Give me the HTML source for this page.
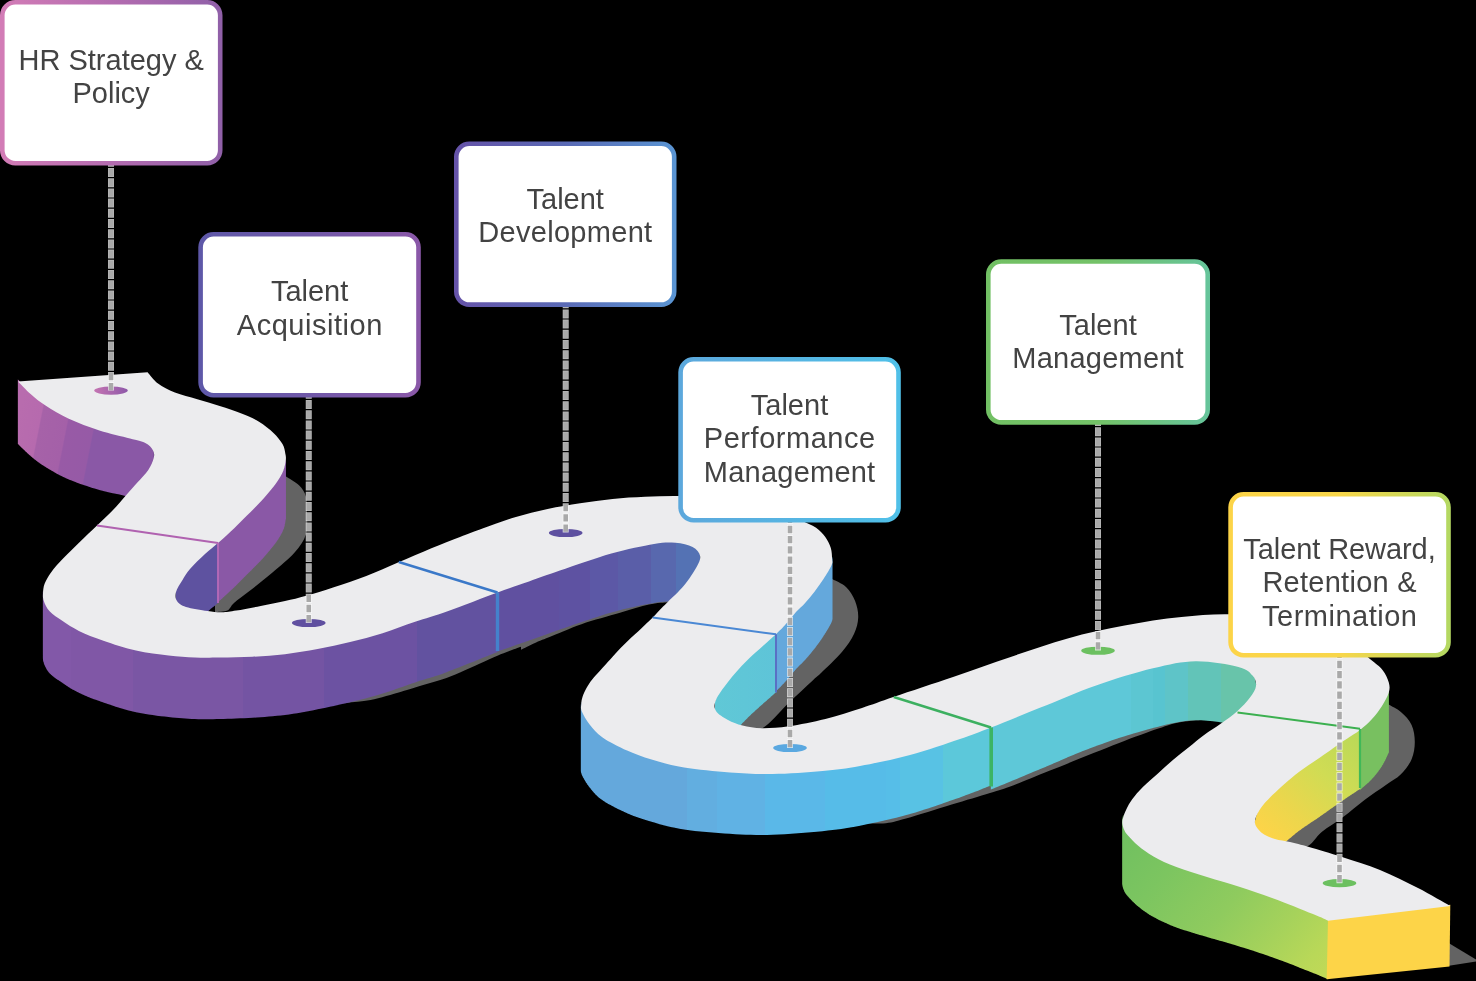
<!DOCTYPE html><html><head><meta charset="utf-8"><style>html,body{margin:0;padding:0;background:#000;overflow:hidden;}svg{display:block}</style></head><body>
<svg style="will-change:transform" width="1476" height="981" viewBox="0 0 1476 981">
<defs>
<linearGradient id="gW1" gradientUnits="userSpaceOnUse" x1="18" y1="420" x2="150" y2="446">
 <stop offset="0" stop-color="#b86cae"/><stop offset="0.16" stop-color="#b66aae"/><stop offset="0.17" stop-color="#a662a8"/><stop offset="0.36" stop-color="#a460a8"/><stop offset="0.37" stop-color="#985aa6"/><stop offset="0.56" stop-color="#965aa6"/><stop offset="0.57" stop-color="#8a58a6"/><stop offset="1" stop-color="#8a58a6"/>
</linearGradient>
<linearGradient id="gW2" gradientUnits="userSpaceOnUse" x1="218" y1="0" x2="286" y2="0">
 <stop offset="0" stop-color="#8a58a6"/><stop offset="1" stop-color="#8a58a6"/>
</linearGradient>
<linearGradient id="gW4" gradientUnits="userSpaceOnUse" x1="43" y1="0" x2="500" y2="0">
 <stop offset="0.0000" stop-color="#8258a8"/><stop offset="0.0613" stop-color="#8258a8"/><stop offset="0.0613" stop-color="#8057a6"/><stop offset="0.1980" stop-color="#8057a6"/><stop offset="0.1980" stop-color="#7a56a4"/><stop offset="0.4368" stop-color="#7a56a4"/><stop offset="0.4368" stop-color="#7454a3"/><stop offset="0.6140" stop-color="#7454a3"/><stop offset="0.6140" stop-color="#6c52a2"/><stop offset="0.8184" stop-color="#6c52a2"/><stop offset="0.8184" stop-color="#6252a0"/><stop offset="1.0000" stop-color="#6252a0"/>
</linearGradient>
<linearGradient id="gW5" gradientUnits="userSpaceOnUse" x1="497" y1="0" x2="705" y2="0">
 <stop offset="0.0000" stop-color="#6050a0"/><stop offset="0.2981" stop-color="#6050a0"/><stop offset="0.2981" stop-color="#5e52a2"/><stop offset="0.4471" stop-color="#5e52a2"/><stop offset="0.4471" stop-color="#5c58a6"/><stop offset="0.5817" stop-color="#5c58a6"/><stop offset="0.5817" stop-color="#5a5ea8"/><stop offset="0.7404" stop-color="#5a5ea8"/><stop offset="0.7404" stop-color="#5868ae"/><stop offset="0.8606" stop-color="#5868ae"/><stop offset="0.8606" stop-color="#5472b4"/><stop offset="1.0000" stop-color="#5472b4"/>
</linearGradient>
<linearGradient id="gW7" gradientUnits="userSpaceOnUse" x1="776" y1="0" x2="713" y2="0">
 <stop offset="0" stop-color="#5ec4d8"/><stop offset="1" stop-color="#60c8d6"/>
</linearGradient>
<linearGradient id="gW8" gradientUnits="userSpaceOnUse" x1="581" y1="0" x2="995" y2="0">
 <stop offset="0.0000" stop-color="#64a8dc"/><stop offset="0.2572" stop-color="#64a8dc"/><stop offset="0.2572" stop-color="#62aee0"/><stop offset="0.3297" stop-color="#62aee0"/><stop offset="0.3297" stop-color="#60b2e4"/><stop offset="0.4444" stop-color="#60b2e4"/><stop offset="0.4444" stop-color="#5ab8e8"/><stop offset="0.5894" stop-color="#5ab8e8"/><stop offset="0.5894" stop-color="#56bce8"/><stop offset="0.7367" stop-color="#56bce8"/><stop offset="0.7367" stop-color="#56bee8"/><stop offset="0.7705" stop-color="#56bee8"/><stop offset="0.7705" stop-color="#58c2e4"/><stop offset="0.8744" stop-color="#58c2e4"/><stop offset="0.8744" stop-color="#5cc8da"/><stop offset="1.0000" stop-color="#5cc8da"/>
</linearGradient>
<linearGradient id="gW9" gradientUnits="userSpaceOnUse" x1="991" y1="0" x2="1260" y2="0">
 <stop offset="0.0000" stop-color="#5ec8d8"/><stop offset="0.5204" stop-color="#5ec8d8"/><stop offset="0.5204" stop-color="#5cc6d2"/><stop offset="0.6022" stop-color="#5cc6d2"/><stop offset="0.6022" stop-color="#58c4d0"/><stop offset="0.6468" stop-color="#58c4d0"/><stop offset="0.6468" stop-color="#5ec4c8"/><stop offset="0.7323" stop-color="#5ec4c8"/><stop offset="0.7323" stop-color="#62c4b8"/><stop offset="0.8550" stop-color="#62c4b8"/><stop offset="0.8550" stop-color="#68c4aa"/><stop offset="1.0000" stop-color="#68c4aa"/>
</linearGradient>
<linearGradient id="gW11" gradientUnits="userSpaceOnUse" x1="1360" y1="730" x2="1265" y2="835">
 <stop offset="0" stop-color="#b8d858"/><stop offset="0.4" stop-color="#d0dc54"/><stop offset="0.75" stop-color="#ecd64c"/><stop offset="1" stop-color="#fdd448"/>
</linearGradient>
<linearGradient id="gW12" gradientUnits="userSpaceOnUse" x1="1120" y1="820" x2="1330" y2="1000">
 <stop offset="0" stop-color="#6ebf60"/><stop offset="0.25" stop-color="#7cc560"/><stop offset="0.5" stop-color="#8fcb5e"/><stop offset="0.7" stop-color="#a6d25b"/><stop offset="0.85" stop-color="#b9d858"/><stop offset="1" stop-color="#c6da56"/>
</linearGradient>
<linearGradient id="gp1" x1="0" y1="0" x2="1" y2="0"><stop offset="0" stop-color="#c474b2"/><stop offset="1" stop-color="#8e58a8"/></linearGradient>
<linearGradient id="gb1" x1="0" y1="0" x2="1" y2="0"><stop offset="0" stop-color="#d27cb6"/><stop offset="0.5" stop-color="#b46cb0"/><stop offset="1" stop-color="#9060a8"/></linearGradient>
<linearGradient id="gb2" x1="0" y1="0" x2="1" y2="0"><stop offset="0" stop-color="#5e58a8"/><stop offset="0.5" stop-color="#7058a8"/><stop offset="1" stop-color="#8a58a8"/></linearGradient>
<linearGradient id="gb3" x1="0" y1="0" x2="1" y2="0"><stop offset="0" stop-color="#6553a8"/><stop offset="0.5" stop-color="#5a6ab5"/><stop offset="1" stop-color="#5a94d2"/></linearGradient>
<linearGradient id="gb4" x1="0" y1="0" x2="1" y2="0"><stop offset="0" stop-color="#5ca8dc"/><stop offset="1" stop-color="#50c0e8"/></linearGradient>
<linearGradient id="gb5" x1="0" y1="0" x2="1" y2="0"><stop offset="0" stop-color="#72c064"/><stop offset="0.5" stop-color="#74c268"/><stop offset="1" stop-color="#66c49a"/></linearGradient>
<linearGradient id="gb6" x1="0" y1="0" x2="1" y2="0"><stop offset="0" stop-color="#fcd448"/><stop offset="0.5" stop-color="#f8d64a"/><stop offset="1" stop-color="#b4d862"/></linearGradient>
</defs>
<rect width="1476" height="981" fill="#000"/>
<path d="M283.0,474.0 C283.4,474.4 282.9,474.4 285.6,476.3 C288.3,478.2 295.6,481.9 299.0,485.3 C302.4,488.7 304.6,492.0 305.9,496.5 C307.2,501.0 307.0,505.9 307.0,512.2 C307.0,518.6 308.0,527.9 305.9,534.6 C303.8,541.3 300.2,546.2 294.6,552.6 C289.0,559.0 279.7,566.4 272.2,572.8 C264.7,579.2 256.2,585.8 249.8,590.8 C243.4,595.8 237.8,599.7 234.0,603.0 C230.2,606.3 230.5,609.0 227.3,610.5 C224.1,612.0 217.1,611.8 215.0,612.0 L215,540 L283,470 Z" fill="#636363"/>
<path d="M315.0,708.0 C320.0,707.2 335.7,704.3 345.0,703.0 C354.3,701.7 361.2,701.9 370.6,700.0 C380.0,698.1 392.7,694.1 401.2,691.7 C409.7,689.3 414.7,687.6 421.5,685.6 C428.3,683.6 435.5,681.7 441.9,679.5 C448.3,677.3 453.6,675.1 460.0,672.4 C466.4,669.7 473.7,666.3 480.0,663.5 C486.3,660.7 491.2,658.3 498.0,655.5 C504.8,652.7 517.2,648.2 521.0,646.8 L521,630 L315,690 Z" fill="#636363"/>
<path d="M521.0,649.8 C523.3,648.7 530.4,645.1 535.0,643.0 C539.6,640.9 541.1,640.4 548.9,637.3 C556.6,634.2 569.6,628.3 581.5,624.2 C593.4,620.1 608.8,616.1 620.0,612.8 C631.2,609.5 641.0,606.2 649.0,604.5 C657.0,602.8 664.8,602.7 668.0,602.3 L668,590 L521,635 Z" fill="#636363"/>
<path d="M829.0,577.0 C829.5,577.3 828.9,577.1 831.7,578.7 C834.5,580.4 842.1,583.2 846.0,586.9 C849.9,590.6 853.1,596.0 855.1,601.1 C857.1,606.2 858.4,612.0 858.2,617.4 C858.0,622.8 856.8,627.9 854.1,633.7 C851.4,639.5 847.3,645.6 841.9,652.1 C836.5,658.6 826.3,667.9 821.5,672.5 C816.7,677.1 818.9,674.8 813.2,680.0 C807.6,685.2 796.1,695.9 787.6,704.0 C779.1,712.1 769.9,724.4 762.0,728.5 C754.1,732.6 743.7,728.5 740.0,728.5 L740,680 L829,570 Z" fill="#636363"/>
<path d="M855.0,822.0 C859.7,822.2 874.5,824.1 883.0,823.5 C891.5,822.9 894.5,821.8 906.0,818.6 C917.5,815.5 937.7,808.9 951.7,804.6 C965.7,800.4 979.8,796.3 990.0,793.1 C1000.2,789.9 1003.0,789.2 1013.0,785.5 C1023.0,781.8 1032.5,777.6 1050.0,770.6 C1067.5,763.6 1099.7,750.5 1117.8,743.5 C1135.9,736.5 1148.2,732.1 1158.4,728.6 C1168.6,725.1 1171.8,723.9 1178.7,722.5 C1185.6,721.1 1196.5,720.4 1200.0,720.0 L1200,700 L855,800 Z" fill="#636363"/>
<path d="M1386.0,703.0 C1386.4,703.3 1386.0,703.1 1388.5,704.6 C1391.0,706.1 1397.1,708.7 1400.9,712.1 C1404.8,715.5 1409.3,720.0 1411.6,725.0 C1413.9,730.0 1414.8,736.4 1414.8,742.1 C1414.8,747.8 1413.9,753.9 1411.6,759.2 C1409.3,764.6 1405.2,769.9 1400.9,774.2 C1396.6,778.5 1392.0,780.6 1385.9,784.9 C1379.8,789.2 1371.6,794.5 1364.5,799.9 C1357.4,805.2 1350.2,811.6 1343.1,817.0 C1336.0,822.4 1327.8,827.1 1321.7,832.0 C1315.6,836.9 1312.8,844.5 1306.7,846.5 C1300.6,848.5 1291.5,845.1 1285.0,844.0 C1278.5,842.9 1270.8,840.7 1268.0,840.0 L1268,800 L1386,690 Z" fill="#636363"/>
<path d="M1449,943.3 L1476,959.5 L1476,961.5 L1449,965.8 Z" fill="#636363"/>
<path d="M17.85,379.40L19.10,380.38L19.10,444.88L17.85,443.90ZM18.80,380.38L20.35,381.68L20.35,446.18L18.80,444.88ZM20.05,381.68L21.83,383.24L21.83,447.67L20.05,446.18ZM21.53,383.24L23.49,384.96L23.49,449.34L21.53,447.67ZM23.19,384.96L25.27,386.78L25.27,451.08L23.19,449.34ZM24.97,386.78L27.11,388.61L27.11,452.85L24.97,451.08ZM26.81,388.61L28.96,390.38L28.96,454.54L26.81,452.85ZM28.66,390.38L30.75,392.00L30.75,456.10L28.66,454.54ZM30.45,392.00L32.48,393.51L32.48,457.54L30.45,456.10ZM32.18,393.51L34.21,394.98L34.21,458.94L32.18,457.54ZM33.91,394.98L35.96,396.43L35.96,460.33L33.91,458.94ZM35.66,396.43L37.76,397.88L37.76,461.70L35.66,460.33ZM37.46,397.88L39.64,399.32L39.64,463.08L37.46,461.70ZM39.34,399.32L41.63,400.78L41.63,464.47L39.34,463.08ZM41.33,400.78L43.76,402.27L43.76,465.87L41.33,464.47ZM43.46,402.27L46.05,403.80L46.05,467.31L43.46,465.87ZM45.75,403.80L48.50,405.38L48.50,468.80L45.75,467.31ZM48.20,405.38L51.06,407.00L51.06,470.32L48.20,468.80ZM50.76,407.00L53.74,408.64L53.74,471.86L50.76,470.32ZM53.44,408.64L56.54,410.31L56.54,473.42L53.44,471.86ZM56.24,410.31L59.46,411.97L59.46,474.97L56.24,473.42ZM59.16,411.97L62.51,413.61L62.51,476.50L59.16,474.97ZM62.21,413.61L65.67,415.23L65.67,478.00L62.21,476.50ZM65.37,415.23L68.95,416.80L68.95,479.44L65.37,478.00ZM68.65,416.80L72.41,418.35L72.41,480.86L68.65,479.44ZM72.11,418.35L76.06,419.90L76.06,482.27L72.11,480.86ZM75.76,419.90L79.86,421.45L79.86,483.67L75.76,482.27ZM79.56,421.45L83.77,422.96L83.77,485.04L79.56,483.67ZM83.47,422.96L87.74,424.44L87.74,486.37L83.47,485.04ZM87.44,424.44L91.72,425.87L91.72,487.64L87.44,486.37ZM91.42,425.87L95.67,427.22L95.67,488.85L91.42,487.64ZM95.37,427.22L99.55,428.50L99.55,489.98L95.37,488.85ZM99.25,428.50L103.48,429.70L103.48,491.03L99.25,489.98ZM103.18,429.70L107.56,430.84L107.56,492.01L103.18,491.03ZM107.26,430.84L111.70,431.92L111.70,492.94L107.26,492.01ZM111.40,431.92L115.81,432.95L115.81,493.81L111.40,492.94ZM115.51,432.95L119.80,433.92L119.80,494.62L115.51,493.81ZM119.50,433.92L123.58,434.83L123.58,495.39L119.50,494.62ZM123.28,434.83L127.06,435.69L127.06,496.19L123.28,495.39ZM126.76,435.69L130.15,436.50L130.15,497.00L126.76,496.19ZM129.85,436.50L132.85,437.21L132.85,497.71L129.85,497.00ZM132.55,437.21L135.23,437.81L135.23,498.31L132.55,497.71ZM134.93,437.81L137.35,438.33L137.35,498.83L134.93,498.31ZM137.05,438.33L139.24,438.80L139.24,499.30L137.05,498.83ZM138.94,438.80L140.95,439.27L140.95,499.77L138.94,499.30ZM140.65,439.27L142.53,439.77L142.53,500.27L140.65,499.77ZM142.22,439.77L144.01,440.33L144.01,500.83L142.22,500.27ZM143.71,440.33L145.45,441.00L145.45,501.50L143.71,500.83ZM145.15,441.00L146.81,441.77L146.81,502.27L145.15,501.50ZM146.51,441.77L148.05,442.60L148.05,503.10L146.51,502.27ZM147.75,442.60L149.16,443.48L149.16,503.98L147.75,503.10ZM148.86,443.48L150.16,444.39L150.16,504.89L148.86,503.98ZM149.86,444.39L151.04,445.34L151.04,505.84L149.86,504.89ZM150.74,445.34L151.81,446.29L151.81,506.79L150.74,505.84ZM151.51,446.29L152.48,447.25L152.48,507.75L151.51,506.79ZM152.18,447.25L153.05,448.20L153.05,508.70L152.18,507.75ZM152.75,448.20L153.48,449.20L153.48,509.70L152.75,508.70ZM153.18,449.20L153.75,450.29L153.75,510.79L153.18,509.70ZM153.45,450.29L153.88,451.42L153.88,511.92L153.45,510.79ZM153.58,451.42L153.93,452.55L153.93,513.05L153.58,511.92ZM153.61,453.62L153.93,452.55L153.93,513.05L153.61,514.12ZM153.57,454.58L153.91,453.62L153.91,514.12L153.57,515.08ZM153.53,455.39L153.87,454.58L153.87,515.08L153.53,515.89ZM153.53,455.39L153.85,456.00L153.85,516.50L153.53,515.89Z" fill="url(#gW1)"/>
<path d="M285.49,458.82L285.95,458.00L285.95,519.00L285.49,519.82ZM285.31,459.90L285.79,458.82L285.79,519.82L285.31,520.90ZM285.09,461.18L285.61,459.90L285.61,520.90L285.09,522.18ZM284.83,462.61L285.39,461.18L285.39,522.18L284.83,523.61ZM284.53,464.13L285.13,462.61L285.13,523.61L284.53,525.13ZM284.17,465.67L284.83,464.13L284.83,525.13L284.17,526.67ZM283.74,467.18L284.47,465.67L284.47,526.67L283.74,528.18ZM283.25,468.60L284.04,467.18L284.04,528.18L283.25,529.60ZM282.68,469.96L283.55,468.60L283.55,529.60L282.68,530.96ZM282.04,471.32L282.98,469.96L282.98,530.96L282.04,532.32ZM281.34,472.70L282.34,471.32L282.34,532.32L281.34,533.70ZM280.59,474.07L281.64,472.70L281.64,533.70L280.59,535.08ZM279.78,475.46L280.89,474.07L280.89,535.08L279.78,536.46ZM278.94,476.84L280.08,475.46L280.08,536.46L278.94,537.84ZM278.06,478.22L279.24,476.84L279.24,537.84L278.06,539.22ZM277.15,479.60L278.36,478.22L278.36,539.22L277.15,540.60ZM276.20,480.98L277.45,479.60L277.45,540.60L276.20,541.98ZM275.20,482.35L276.50,480.98L276.50,541.98L275.20,543.35ZM274.16,483.73L275.50,482.35L275.50,543.35L274.16,544.73ZM273.08,485.10L274.46,483.73L274.46,544.73L273.08,546.10ZM271.97,486.48L273.38,485.10L273.38,546.10L271.97,547.48ZM270.84,487.85L272.27,486.48L272.27,547.48L270.84,548.85ZM269.70,489.23L271.14,487.85L271.14,548.85L269.70,550.23ZM268.55,490.60L270.00,489.23L270.00,550.23L268.55,551.60ZM267.40,491.97L268.85,490.60L268.85,551.60L267.40,552.97ZM266.24,493.32L267.70,491.97L267.70,552.97L266.24,554.32ZM265.07,494.67L266.54,493.32L266.54,554.32L265.07,555.67ZM263.88,496.03L265.37,494.67L265.37,555.67L263.88,557.03ZM262.65,497.39L264.17,496.03L264.17,557.03L262.65,558.39ZM261.40,498.77L262.95,497.39L262.95,558.39L261.40,559.77ZM260.10,500.17L261.70,498.77L261.70,559.77L260.10,561.17ZM258.75,501.60L260.40,500.17L260.40,561.17L258.75,562.60ZM257.34,503.07L259.05,501.60L259.05,562.60L257.34,564.07ZM255.87,504.57L257.64,503.07L257.64,564.07L255.87,565.57ZM254.35,506.09L256.17,504.57L256.17,565.57L254.35,567.09ZM252.80,507.62L254.65,506.09L254.65,567.09L252.80,568.62ZM251.23,509.17L253.10,507.62L253.10,568.62L251.23,570.17ZM249.66,510.72L251.53,509.17L251.53,570.17L249.66,571.72ZM248.09,512.27L249.96,510.72L249.96,571.72L248.09,573.27ZM246.55,513.80L248.39,512.27L248.39,573.27L246.55,574.80ZM245.04,515.32L246.85,513.80L246.85,574.80L245.04,576.32ZM243.56,516.82L245.34,515.32L245.34,576.32L243.56,577.82ZM242.08,518.32L243.86,516.82L243.86,577.82L242.08,579.32ZM240.61,519.82L242.38,518.32L242.38,579.32L240.61,580.82ZM239.11,521.33L240.91,519.82L240.91,580.82L239.11,582.33ZM237.58,522.86L239.41,521.33L239.41,582.33L237.58,583.86ZM235.99,524.41L237.88,522.86L237.88,583.86L235.99,585.41ZM234.35,526.00L236.29,524.41L236.29,585.41L234.35,587.00ZM232.54,527.71L234.65,526.00L234.65,587.00L232.54,588.71ZM230.55,529.56L232.84,527.71L232.84,588.71L230.55,590.56ZM228.45,531.49L230.85,529.56L230.85,590.56L228.45,592.49ZM226.35,533.42L228.75,531.49L228.75,592.49L226.35,594.42ZM224.33,535.26L226.65,533.42L226.65,594.42L224.33,596.26ZM222.48,536.94L224.63,535.26L224.63,596.26L222.48,597.94ZM220.89,538.38L222.78,536.94L222.78,597.94L220.89,599.38ZM219.65,539.50L221.19,538.38L221.19,599.38L219.65,600.50ZM218.80,540.27L219.95,539.50L219.95,600.50L218.80,601.27ZM218.25,540.75L219.10,540.27L219.10,601.27L218.25,601.75ZM217.95,541.01L218.55,540.75L218.55,601.75L217.95,602.01ZM217.83,541.09L218.25,541.01L218.25,602.01L217.83,602.09ZM217.83,541.07L218.13,541.09L218.13,602.09L217.83,602.07ZM217.83,541.07L218.17,541.01L218.17,602.01L217.83,602.07ZM217.87,541.01L218.20,540.97L218.20,601.97L217.87,602.01ZM217.85,541.00L218.20,540.97L218.20,601.97L217.85,602.00Z" fill="url(#gW2)"/>
<path d="M216.86,541.82L218.15,541.00L218.15,603.00L216.86,603.82ZM215.56,542.88L217.16,541.82L217.16,603.82L215.56,604.88ZM214.02,544.14L215.86,542.88L215.86,604.88L214.02,606.14ZM212.29,545.56L214.32,544.14L214.32,606.14L212.29,607.56ZM210.44,547.10L212.59,545.56L212.59,607.56L210.44,609.10ZM208.55,548.71L210.74,547.10L210.74,609.10L208.55,610.71ZM206.66,550.36L208.85,548.71L208.85,610.71L206.66,612.36ZM204.85,552.00L206.96,550.36L206.96,612.36L204.85,614.00ZM203.02,553.71L205.15,552.00L205.15,614.00L203.02,615.71ZM201.06,555.56L203.32,553.71L203.32,615.71L201.06,617.56ZM199.04,557.51L201.36,555.56L201.36,617.56L199.04,619.51ZM197.01,559.50L199.34,557.51L199.34,619.51L197.01,621.50ZM195.01,561.49L197.31,559.50L197.31,621.50L195.01,623.49ZM193.12,563.44L195.31,561.49L195.31,623.49L193.12,625.44ZM191.38,565.29L193.42,563.44L193.42,625.44L191.38,627.29ZM189.85,567.00L191.68,565.29L191.68,627.29L189.85,629.00ZM188.55,568.56L190.15,567.00L190.15,629.00L188.55,630.56ZM187.42,570.01L188.85,568.56L188.85,630.56L187.42,632.01ZM186.44,571.37L187.72,570.01L187.72,632.01L186.44,633.37ZM185.57,572.69L186.74,571.37L186.74,633.37L185.57,634.69ZM184.76,573.98L185.87,572.69L185.87,634.69L184.76,635.98ZM183.98,575.27L185.06,573.98L185.06,635.98L183.98,637.27ZM183.19,576.60L184.28,575.27L184.28,637.27L183.19,638.60ZM182.35,578.00L183.49,576.60L183.49,638.60L182.35,640.00ZM181.44,579.47L182.65,578.00L182.65,640.00L181.44,641.47ZM180.48,581.00L181.74,579.47L181.74,641.47L180.48,643.00ZM179.51,582.56L180.78,581.00L180.78,643.00L179.51,644.56ZM178.57,584.12L179.81,582.56L179.81,644.56L178.57,646.12ZM177.69,585.68L178.87,584.12L178.87,646.12L177.69,647.68ZM176.92,587.19L177.99,585.68L177.99,647.68L176.92,649.19ZM176.30,588.64L177.22,587.19L177.22,649.19L176.30,650.64ZM175.85,590.00L176.60,588.64L176.60,650.64L175.85,652.00ZM175.62,591.33L176.15,590.00L176.15,652.00L175.62,653.33ZM175.60,592.67L175.92,591.33L175.92,653.33L175.60,654.67ZM175.60,592.67L176.02,593.99L176.02,655.99L175.60,654.67ZM175.72,593.99L176.24,595.25L176.24,657.25L175.72,655.99ZM175.94,595.25L176.52,596.42L176.52,658.42L175.94,657.25ZM176.22,596.42L176.79,597.45L176.79,659.45L176.22,658.42ZM176.49,597.45L177.02,598.33L177.02,660.33L176.49,659.45ZM176.72,598.33L177.15,599.00L177.15,661.00L176.72,660.33Z" fill="#5e52a0"/>
<path d="M42.85,591.40L43.18,591.97L43.18,655.97L42.85,655.40ZM42.88,592.70L43.18,591.97L43.18,655.97L42.88,656.70ZM42.87,593.57L43.18,592.70L43.18,656.70L42.87,657.57ZM42.87,593.57L43.19,594.56L43.19,658.56L42.87,657.57ZM42.89,594.56L43.25,595.62L43.25,659.62L42.89,658.56ZM42.95,595.62L43.38,596.73L43.38,660.73L42.95,659.62ZM43.08,596.73L43.61,597.87L43.61,661.87L43.08,660.73ZM43.31,597.87L43.95,599.00L43.95,663.00L43.31,661.87ZM43.65,599.00L44.39,600.16L44.39,664.16L43.65,663.00ZM44.09,600.16L44.88,601.40L44.88,665.39L44.09,664.16ZM44.58,601.40L45.44,602.69L45.44,666.68L44.58,665.39ZM45.14,602.69L46.09,604.01L46.09,668.00L45.14,666.68ZM45.79,604.01L46.83,605.36L46.83,669.34L45.79,668.00ZM46.53,605.36L47.68,606.70L47.68,670.68L46.53,669.34ZM47.38,606.70L48.65,608.02L48.65,672.00L47.38,670.68ZM48.35,608.02L49.75,609.30L49.75,673.28L48.35,672.00ZM49.45,609.30L51.01,610.55L51.01,674.53L49.45,673.28ZM50.71,610.55L52.42,611.79L52.42,675.76L50.71,674.53ZM52.12,611.79L53.95,613.01L53.95,676.98L52.12,675.76ZM53.65,613.01L55.59,614.23L55.59,678.19L53.65,676.98ZM55.29,614.23L57.32,615.45L57.32,679.41L55.29,678.19ZM57.02,615.45L59.10,616.66L59.10,680.61L57.02,679.41ZM58.80,616.66L60.92,617.88L60.92,681.83L58.80,680.61ZM60.62,617.88L62.75,619.10L62.75,683.04L60.62,681.83ZM62.45,619.10L64.57,620.33L64.57,684.26L62.45,683.04ZM64.27,620.33L66.40,621.55L66.40,685.48L64.27,684.26ZM66.10,621.55L68.26,622.77L68.26,686.70L66.10,685.48ZM67.96,622.77L70.18,624.00L70.18,687.92L67.96,686.70ZM69.88,624.00L72.19,625.23L72.19,689.14L69.88,687.92ZM71.89,625.23L74.32,626.45L74.32,690.36L71.89,689.14ZM74.02,626.45L76.60,627.67L76.60,691.58L74.02,690.36ZM76.30,627.67L79.05,628.90L79.05,692.79L76.30,691.58ZM78.75,628.90L81.66,630.12L81.66,694.01L78.75,692.79ZM81.36,630.12L84.41,631.35L84.41,695.23L81.36,694.01ZM84.11,631.35L87.28,632.58L87.28,696.44L84.11,695.23ZM86.98,632.58L90.28,633.80L90.28,697.66L86.98,696.44ZM89.98,633.80L93.41,635.02L93.41,698.88L89.98,697.66ZM93.11,635.02L96.66,636.25L96.66,700.09L93.11,698.88ZM96.36,636.25L100.04,637.48L100.04,701.31L96.36,700.09ZM99.74,637.48L103.55,638.70L103.55,702.52L99.74,701.31ZM103.25,638.70L107.24,639.96L107.24,703.77L103.25,702.52ZM106.94,639.96L111.13,641.26L111.13,705.06L106.94,703.77ZM110.83,641.26L115.18,642.59L115.18,706.38L110.83,705.06ZM114.88,642.59L119.34,643.91L119.34,707.68L114.88,706.38ZM119.04,643.91L123.57,645.18L123.57,708.95L119.04,707.68ZM123.27,645.18L127.81,646.39L127.81,710.14L123.27,708.95ZM127.51,646.39L132.02,647.51L132.02,711.25L127.51,710.14ZM131.72,647.51L136.15,648.50L136.15,712.22L131.72,711.25ZM135.85,648.50L140.27,649.37L140.27,713.08L135.85,712.22ZM139.97,649.37L144.45,650.14L144.45,713.84L139.97,713.08ZM144.15,650.14L148.65,650.82L148.65,714.51L144.15,713.84ZM148.35,650.82L152.84,651.43L152.84,715.11L148.35,714.51ZM152.54,651.43L156.98,651.98L156.98,715.65L152.54,715.11ZM156.68,651.98L161.04,652.49L161.04,716.14L156.68,715.65ZM160.74,652.49L164.97,652.95L164.97,716.59L160.74,716.14ZM164.67,652.95L168.75,653.40L168.75,717.03L164.67,716.59ZM168.45,653.40L172.36,653.81L172.36,717.43L168.45,717.03ZM172.06,653.81L175.82,654.17L175.82,717.78L172.06,717.43ZM175.52,654.17L179.17,654.48L179.17,718.08L175.52,717.78ZM178.87,654.48L182.42,654.75L182.42,718.34L178.87,718.08ZM182.12,654.75L185.62,654.98L185.62,718.56L182.12,718.34ZM185.32,654.98L188.79,655.18L188.79,718.75L185.32,718.56ZM188.49,655.18L191.96,655.35L191.96,718.91L188.49,718.75ZM191.66,655.35L195.15,655.50L195.15,719.05L191.66,718.91ZM194.85,655.50L198.29,655.62L198.29,719.16L194.85,719.05ZM197.99,655.62L201.32,655.69L201.32,719.22L197.99,719.16ZM201.02,655.69L204.30,655.73L204.30,719.25L201.02,719.22ZM204.00,655.73L207.27,655.74L207.27,719.25L204.00,719.25ZM206.97,655.74L210.29,655.72L210.29,719.23L206.97,719.25ZM209.99,655.72L213.41,655.69L213.41,719.18L209.99,719.23ZM213.11,655.69L216.68,655.65L216.68,719.10L213.11,719.18ZM216.38,655.65L220.15,655.60L220.15,719.01L216.38,719.10ZM219.85,655.60L223.85,655.55L223.85,718.91L219.85,719.01ZM223.55,655.55L227.75,655.48L227.75,718.80L223.55,718.91ZM227.45,655.48L231.79,655.40L231.79,718.67L227.45,718.80ZM231.49,655.40L235.93,655.31L235.93,718.53L231.49,718.67ZM235.63,655.31L240.13,655.19L240.13,718.36L235.63,718.53ZM239.83,655.19L244.35,655.05L244.35,718.18L239.83,718.36ZM244.05,655.05L248.54,654.89L248.54,717.96L244.05,718.18ZM248.24,654.89L252.65,654.70L252.65,717.73L248.24,717.96ZM252.35,654.70L256.71,654.49L256.71,717.47L252.35,717.73ZM256.41,654.49L260.77,654.27L260.77,717.20L256.41,717.47ZM260.47,654.27L264.83,654.03L264.83,716.92L260.47,717.20ZM264.53,654.03L268.89,653.77L268.89,716.60L264.53,716.92ZM268.59,653.77L272.96,653.47L272.96,716.26L268.59,716.60ZM272.66,653.47L277.02,653.13L277.02,715.87L272.66,716.26ZM276.72,653.13L281.08,652.74L281.08,715.44L276.72,715.87ZM280.78,652.74L285.15,652.30L285.15,714.94L280.78,715.44ZM284.85,652.30L289.22,651.80L289.22,714.39L284.85,714.94ZM288.92,651.80L293.30,651.24L293.30,713.79L288.92,714.39ZM293.00,651.24L297.37,650.63L297.37,713.14L293.00,713.79ZM297.07,650.63L301.45,649.99L301.45,712.44L297.07,713.14ZM301.15,649.99L305.53,649.30L305.53,711.71L301.15,712.44ZM305.23,649.30L309.60,648.59L309.60,710.95L305.23,711.71ZM309.30,648.59L313.68,647.86L313.68,710.17L309.30,710.95ZM313.38,647.86L317.75,647.10L317.75,709.36L313.38,710.17ZM317.45,647.10L321.82,646.32L321.82,708.54L317.45,709.36ZM321.52,646.32L325.88,645.52L325.88,707.69L321.52,708.54ZM325.58,645.52L329.94,644.69L329.94,706.81L325.58,707.69ZM329.64,644.69L334.01,643.83L334.01,705.90L329.64,706.81ZM333.71,643.83L338.07,642.94L338.07,704.97L333.71,705.90ZM337.77,642.94L342.13,642.03L342.13,704.04L337.77,704.97ZM341.83,642.03L346.19,641.08L346.19,703.13L341.83,704.04ZM345.89,641.08L350.25,640.10L350.25,702.18L345.89,703.13ZM349.95,640.10L354.31,639.10L354.31,701.21L349.95,702.18ZM354.01,639.10L358.38,638.07L358.38,700.21L354.01,701.21ZM358.08,638.07L362.44,637.01L362.44,699.19L358.08,700.21ZM362.14,637.01L366.50,635.93L366.50,698.14L362.14,699.19ZM366.20,635.93L370.56,634.80L370.56,697.05L366.20,698.14ZM370.26,634.80L374.62,633.65L374.62,695.92L370.26,697.05ZM374.33,633.65L378.69,632.45L378.69,694.75L374.33,695.92ZM378.39,632.45L382.75,631.20L382.75,693.54L378.39,694.75ZM382.45,631.20L386.81,629.89L386.81,692.26L382.45,693.54ZM386.51,629.89L390.88,628.51L390.88,690.91L386.51,692.26ZM390.58,628.51L394.94,627.07L394.94,689.51L390.58,690.91ZM394.64,627.07L399.00,625.61L399.00,688.08L394.64,689.51ZM398.70,625.61L403.06,624.13L403.06,686.63L398.70,688.08ZM402.76,624.13L407.12,622.65L407.12,685.19L402.76,686.63ZM406.83,622.65L411.19,621.20L411.19,683.77L406.83,685.19ZM410.89,621.20L415.25,619.80L415.25,682.40L410.89,683.77ZM414.95,619.80L419.19,618.49L419.19,681.12L414.95,682.40ZM418.89,618.49L422.97,617.28L422.97,679.95L418.89,681.12ZM422.67,617.28L426.67,616.12L426.67,678.81L422.67,679.95ZM426.37,616.12L430.41,614.96L430.41,677.68L426.37,678.81ZM430.11,614.96L434.29,613.73L434.29,676.49L430.11,677.68ZM433.99,613.73L438.40,612.40L438.40,675.19L433.99,676.49ZM438.10,612.40L442.85,610.91L442.85,673.64L438.10,675.19ZM442.55,610.91L447.75,609.20L447.75,671.82L442.55,673.64ZM447.45,609.20L453.50,607.12L453.50,669.61L447.45,671.82ZM453.20,607.12L460.17,604.66L460.17,666.98L453.20,669.61ZM459.87,604.66L467.38,601.96L467.38,664.12L459.87,666.98ZM467.08,601.96L474.73,599.19L474.73,661.17L467.08,664.12ZM474.43,599.19L481.83,596.50L481.83,658.31L474.43,661.17ZM481.53,596.50L488.28,594.05L488.28,655.71L481.53,658.31ZM487.98,594.05L493.68,592.00L493.68,653.53L487.98,655.71ZM493.38,592.00L497.65,590.50L497.65,652.00L493.38,653.53Z" fill="url(#gW4)"/>
<path d="M497.35,590.50L500.08,589.65L500.08,650.65L497.35,651.50ZM499.78,589.65L503.32,588.52L503.32,649.52L499.78,650.65ZM503.02,588.52L507.18,587.18L507.18,648.18L503.02,649.52ZM506.88,587.18L511.47,585.68L511.47,646.68L506.88,648.18ZM511.17,585.68L516.00,584.10L516.00,645.10L511.17,646.68ZM515.70,584.10L520.58,582.50L520.58,643.50L515.70,645.10ZM520.28,582.50L525.03,580.95L525.03,641.95L520.28,643.50ZM524.73,580.95L529.15,579.50L529.15,640.50L524.73,641.95ZM528.85,579.50L532.90,578.18L532.90,639.18L528.85,640.50ZM532.60,578.18L536.44,576.91L536.44,637.91L532.60,639.18ZM536.14,576.91L539.88,575.68L539.88,636.68L536.14,637.91ZM539.58,575.68L543.36,574.43L543.36,635.43L539.58,636.68ZM543.06,574.43L546.99,573.14L546.99,634.14L543.06,635.43ZM546.69,573.14L550.90,571.76L550.90,632.76L546.69,634.14ZM550.60,571.76L555.21,570.26L555.21,631.26L550.60,632.76ZM554.91,570.26L560.05,568.60L560.05,629.60L554.91,631.26ZM559.75,568.60L565.55,566.71L565.55,627.71L559.75,629.60ZM565.25,566.71L571.66,564.59L571.66,625.59L565.25,627.71ZM571.36,564.59L578.21,562.31L578.21,623.31L571.36,625.59ZM577.91,562.31L585.01,559.97L585.01,620.97L577.91,623.31ZM584.71,559.97L591.91,557.64L591.91,618.64L584.71,620.97ZM591.61,557.64L598.73,555.39L598.73,616.39L591.61,618.64ZM598.43,555.39L605.30,553.32L605.30,614.32L598.43,616.39ZM605.00,553.32L611.45,551.50L611.45,612.50L605.00,614.32ZM611.15,551.50L617.35,549.88L617.35,610.88L611.15,612.50ZM617.05,549.88L623.23,548.37L623.23,609.37L617.05,610.88ZM622.93,548.37L629.03,546.98L629.03,607.98L622.93,609.37ZM628.73,546.98L634.67,545.70L634.67,606.70L628.73,607.98ZM634.37,545.70L640.07,544.55L640.07,605.55L634.37,606.70ZM639.77,544.55L645.17,543.53L645.17,604.53L639.77,605.55ZM644.87,543.53L649.89,542.64L649.89,603.64L644.87,604.53ZM649.59,542.64L654.15,541.90L654.15,602.90L649.59,603.64ZM653.85,541.90L657.88,541.32L657.88,602.32L653.85,602.90ZM657.58,541.32L661.12,540.90L661.12,601.90L657.58,602.32ZM660.82,540.90L663.96,540.63L663.96,601.63L660.82,601.90ZM663.66,540.63L666.50,540.49L666.50,601.49L663.66,601.63ZM666.20,540.49L668.84,540.45L668.84,601.45L666.20,601.49ZM668.54,540.45L671.08,540.50L671.08,601.50L668.54,601.45ZM670.78,540.50L673.32,540.63L673.32,601.63L670.78,601.50ZM673.02,540.63L675.65,540.80L675.65,601.80L673.02,601.63ZM675.35,540.80L678.06,541.04L678.06,602.04L675.35,601.80ZM677.76,541.04L680.46,541.37L680.46,602.37L677.76,602.04ZM680.16,541.37L682.81,541.79L682.81,602.79L680.16,602.37ZM682.51,541.79L685.08,542.29L685.08,603.29L682.51,602.79ZM684.78,542.29L687.24,542.87L687.24,603.87L684.78,603.29ZM686.94,542.87L689.26,543.52L689.26,604.52L686.94,603.87ZM688.96,543.52L691.11,544.23L691.11,605.23L688.96,604.52ZM690.81,544.23L692.75,545.00L692.75,606.00L690.81,605.23ZM692.45,545.00L694.19,545.92L694.19,606.92L692.45,606.00ZM693.89,545.92L695.46,547.04L695.46,608.04L693.89,606.92ZM695.16,547.04L696.56,548.28L696.56,609.28L695.16,608.04ZM696.26,548.28L697.52,549.56L697.52,610.56L696.26,609.28ZM697.22,549.56L698.34,550.81L698.34,611.81L697.22,610.56ZM698.04,550.81L699.05,551.95L699.05,612.95L698.04,611.81ZM698.75,551.95L699.65,552.91L699.65,613.91L698.75,612.95ZM699.35,552.91L700.15,553.60L700.15,614.60L699.35,613.91Z" fill="url(#gW5)"/>
<path d="M831.95,556.90L832.26,557.32L832.26,616.32L831.95,615.90ZM831.96,557.32L832.34,557.81L832.34,616.81L831.96,616.32ZM832.04,557.81L832.43,558.39L832.43,617.39L832.04,616.81ZM832.13,558.39L832.51,559.07L832.51,618.07L832.13,617.39ZM832.21,559.07L832.52,559.86L832.52,618.86L832.21,618.07ZM832.12,560.77L832.52,559.86L832.52,618.86L832.12,619.77ZM831.88,561.81L832.42,560.77L832.42,619.77L831.88,620.81ZM831.45,563.00L832.18,561.81L832.18,620.81L831.45,622.00ZM830.81,564.39L831.75,563.00L831.75,622.00L830.81,623.39ZM829.99,565.99L831.11,564.39L831.11,623.39L829.99,624.99ZM829.02,567.76L830.29,565.99L830.29,624.99L829.02,626.76ZM827.94,569.63L829.32,567.76L829.32,626.76L827.94,628.63ZM826.80,571.56L828.24,569.63L828.24,628.63L826.80,630.56ZM825.63,573.48L827.10,571.56L827.10,630.56L825.63,632.48ZM824.47,575.35L825.93,573.48L825.93,632.48L824.47,634.35ZM823.35,577.10L824.77,575.35L824.77,634.35L823.35,636.10ZM822.25,578.77L823.65,577.10L823.65,636.10L822.25,637.77ZM821.13,580.43L822.55,578.77L822.55,637.77L821.13,639.43ZM819.98,582.07L821.43,580.43L821.43,639.43L819.98,641.07ZM818.82,583.69L820.28,582.07L820.28,641.07L818.82,642.69ZM817.65,585.29L819.12,583.69L819.12,642.69L817.65,644.29ZM816.48,586.86L817.95,585.29L817.95,644.29L816.48,645.86ZM815.31,588.40L816.78,586.86L816.78,645.86L815.31,647.40ZM814.15,589.90L815.61,588.40L815.61,647.40L814.15,648.90ZM813.00,591.37L814.45,589.90L814.45,648.90L813.00,650.37ZM811.85,592.82L813.30,591.37L813.30,650.37L811.85,651.82ZM810.70,594.24L812.15,592.82L812.15,651.82L810.70,653.24ZM809.54,595.62L811.00,594.24L811.00,653.24L809.54,654.62ZM808.39,596.99L809.84,595.62L809.84,654.62L808.39,655.99ZM807.24,598.32L808.69,596.99L808.69,655.99L807.24,657.32ZM806.10,599.62L807.54,598.32L807.54,657.32L806.10,658.62ZM804.95,600.90L806.40,599.62L806.40,658.62L804.95,659.90ZM803.81,602.12L805.25,600.90L805.25,659.90L803.81,661.12ZM802.67,603.28L804.11,602.12L804.11,661.12L802.67,662.28ZM801.53,604.40L802.97,603.28L802.97,662.28L801.53,663.40ZM800.40,605.50L801.83,604.40L801.83,663.40L800.40,664.50ZM799.27,606.60L800.70,605.50L800.70,664.50L799.27,665.60ZM798.13,607.72L799.57,606.60L799.57,665.60L798.13,666.72ZM796.99,608.88L798.43,607.72L798.43,666.72L796.99,667.88ZM795.85,610.10L797.29,608.88L797.29,667.88L795.85,669.10ZM794.72,611.39L796.15,610.10L796.15,669.10L794.72,670.39ZM793.59,612.72L795.02,611.39L795.02,670.39L793.59,671.72ZM792.48,614.08L793.89,612.72L793.89,671.72L792.48,673.08ZM791.36,615.48L792.78,614.08L792.78,673.08L791.36,674.48ZM790.22,616.88L791.66,615.48L791.66,674.48L790.22,675.88ZM789.06,618.29L790.52,616.88L790.52,675.88L789.06,677.29ZM787.88,619.70L789.36,618.29L789.36,677.29L787.88,678.70ZM786.65,621.10L788.18,619.70L788.18,678.70L786.65,680.10ZM785.30,622.57L786.95,621.10L786.95,680.10L785.30,681.57ZM783.81,624.15L785.60,622.57L785.60,681.57L783.81,683.15ZM782.24,625.78L784.11,624.15L784.11,683.15L782.24,684.78ZM780.67,627.39L782.54,625.78L782.54,684.78L780.67,686.39ZM779.18,628.91L780.97,627.39L780.97,686.39L779.18,687.91ZM777.83,630.28L779.48,628.91L779.48,687.91L777.83,689.28ZM776.69,631.43L778.13,630.28L778.13,689.28L776.69,690.43ZM775.85,632.30L776.99,631.43L776.99,690.43L775.85,691.30Z" fill="#64a8dc"/>
<path d="M773.59,634.31L776.15,632.30L776.15,692.30L773.59,694.31ZM770.52,637.00L773.89,634.31L773.89,694.31L770.52,697.00ZM766.85,640.22L770.82,637.00L770.82,697.00L766.85,700.22ZM762.82,643.77L767.15,640.22L767.15,700.22L762.82,703.77ZM758.63,647.50L763.12,643.77L763.12,703.77L758.63,707.50ZM754.51,651.23L758.93,647.50L758.93,707.50L754.51,711.23ZM750.68,654.79L754.81,651.23L754.81,711.23L750.68,714.79ZM747.35,658.00L750.98,654.79L750.98,714.79L747.35,718.00ZM744.43,660.95L747.65,658.00L747.65,718.00L744.43,720.95ZM741.67,663.85L744.73,660.95L744.73,720.95L741.67,723.85ZM739.05,666.70L741.97,663.85L741.97,723.85L739.05,726.70ZM736.57,669.48L739.35,666.70L739.35,726.70L736.57,729.48ZM734.22,672.21L736.87,669.48L736.87,729.48L734.22,732.21ZM731.99,674.87L734.52,672.21L734.52,732.21L731.99,734.87ZM729.87,677.47L732.29,674.87L732.29,734.87L729.87,737.47ZM727.85,680.00L730.17,677.47L730.17,737.47L727.85,740.00ZM725.91,682.49L728.15,680.00L728.15,740.00L725.91,742.49ZM724.04,684.95L726.21,682.49L726.21,742.49L724.04,744.95ZM722.27,687.35L724.34,684.95L724.34,744.95L722.27,747.35ZM720.63,689.69L722.57,687.35L722.57,747.35L720.63,749.69ZM719.14,691.94L720.93,689.69L720.93,749.69L719.14,751.94ZM717.83,694.09L719.44,691.94L719.44,751.94L717.83,754.09ZM716.72,696.11L718.13,694.09L718.13,754.09L716.72,756.11ZM715.85,698.00L717.02,696.11L717.02,756.11L715.85,758.00ZM715.28,699.79L716.15,698.00L716.15,758.00L715.28,759.79ZM715.01,701.50L715.58,699.79L715.58,759.79L715.01,761.50ZM714.97,703.12L715.31,701.50L715.31,761.50L714.97,763.12ZM714.97,703.12L715.40,704.62L715.40,764.62L714.97,763.12ZM715.10,704.62L715.62,705.99L715.62,765.99L715.10,764.62ZM715.32,705.99L715.87,707.19L715.87,767.19L715.32,765.99ZM715.57,707.19L716.07,708.20L716.07,768.20L715.57,767.19ZM715.77,708.20L716.15,709.00L716.15,769.00L715.77,768.20Z" fill="url(#gW7)"/>
<path d="M581.13,702.52L581.45,702.00L581.45,767.00L581.13,767.52ZM581.05,703.18L581.43,702.52L581.43,767.52L581.05,768.18ZM580.94,703.95L581.35,703.18L581.35,768.18L580.94,768.95ZM580.86,704.83L581.24,703.95L581.24,768.95L580.86,769.83ZM580.83,705.82L581.16,704.83L581.16,769.83L580.83,770.82ZM580.83,705.82L581.21,706.90L581.21,771.90L580.83,770.82ZM580.91,706.90L581.44,708.06L581.44,773.06L580.91,771.90ZM581.14,708.06L581.85,709.30L581.85,774.30L581.14,773.06ZM581.55,709.30L582.44,710.66L582.44,775.66L581.55,774.30ZM582.14,710.66L583.18,712.17L583.18,777.17L582.14,775.66ZM582.88,712.17L584.04,713.79L584.04,778.79L582.88,777.17ZM583.74,713.79L585.01,715.49L585.01,780.49L583.74,778.79ZM584.71,715.49L586.08,717.24L586.08,782.24L584.71,780.49ZM585.78,717.24L587.24,719.00L587.24,784.00L585.78,782.24ZM586.94,719.00L588.47,720.73L588.47,785.73L586.94,784.00ZM588.17,720.73L589.75,722.40L589.75,787.40L588.17,785.73ZM589.45,722.40L591.05,724.03L591.05,789.03L589.45,787.40ZM590.75,724.03L592.37,725.65L592.37,790.65L590.75,789.03ZM592.07,725.65L593.75,727.28L593.75,792.28L592.07,790.65ZM593.45,727.28L595.21,728.90L595.21,793.90L593.45,792.28ZM594.91,728.90L596.81,730.52L596.81,795.52L594.91,793.90ZM596.51,730.52L598.57,732.15L598.57,797.15L596.51,795.52ZM598.27,732.15L600.54,733.77L600.54,798.77L598.27,797.15ZM600.24,733.77L602.75,735.40L602.75,800.37L600.24,798.77ZM602.45,735.40L605.26,737.06L605.26,802.00L602.45,800.37ZM604.96,737.06L608.07,738.76L608.07,803.66L604.96,802.00ZM607.77,738.76L611.10,740.49L611.10,805.35L607.77,803.66ZM610.80,740.49L614.28,742.20L614.28,807.02L610.80,805.35ZM613.98,742.20L617.56,743.88L617.56,808.66L613.98,807.02ZM617.26,743.88L620.86,745.51L620.86,810.25L617.26,808.66ZM620.56,745.51L624.11,747.06L624.11,811.75L620.56,810.25ZM623.81,747.06L627.25,748.50L627.25,813.15L623.81,811.75ZM626.95,748.50L630.26,749.83L630.26,814.44L626.95,813.15ZM629.96,749.83L633.19,751.06L633.19,815.64L629.96,814.44ZM632.89,751.06L636.08,752.21L636.08,816.75L632.89,815.64ZM635.78,752.21L638.99,753.31L638.99,817.81L635.78,816.75ZM638.69,753.31L641.97,754.37L641.97,818.83L638.69,817.81ZM641.67,754.37L645.06,755.41L645.06,819.83L641.67,818.83ZM644.76,755.41L648.30,756.45L648.30,820.83L644.76,819.83ZM648.00,756.45L651.75,757.50L651.75,821.84L648.00,820.83ZM651.45,757.50L655.35,758.58L655.35,822.87L651.45,821.84ZM655.05,758.58L659.02,759.66L659.02,823.91L655.05,822.87ZM658.72,759.66L662.80,760.74L662.80,824.94L658.72,823.91ZM662.50,760.74L666.72,761.81L666.72,825.95L662.50,824.94ZM666.42,761.81L670.80,762.84L670.80,826.93L666.42,825.95ZM670.50,762.84L675.08,763.82L675.08,827.86L670.50,826.93ZM674.78,763.82L679.59,764.75L679.59,828.73L674.78,827.86ZM679.29,764.75L684.35,765.60L684.35,829.52L679.29,828.73ZM684.05,765.60L689.47,766.39L689.47,830.24L684.05,829.52ZM689.17,766.39L694.95,767.13L694.95,830.91L689.17,830.24ZM694.65,767.13L700.70,767.82L700.70,831.53L694.65,830.91ZM700.40,767.82L706.63,768.46L706.63,832.10L700.40,831.53ZM706.33,768.46L712.64,769.05L712.64,832.61L706.33,832.10ZM712.34,769.05L718.62,769.59L718.62,833.07L712.34,832.61ZM718.32,769.59L724.49,770.07L724.49,833.48L718.32,833.07ZM724.19,770.07L730.15,770.50L730.15,833.83L724.19,833.48ZM729.85,770.50L735.57,770.88L735.57,834.14L729.85,833.83ZM735.27,770.88L740.83,771.22L740.83,834.42L735.27,834.14ZM740.53,771.22L746.00,771.51L746.00,834.64L740.53,834.42ZM745.70,771.51L751.14,771.74L751.14,834.81L745.70,834.64ZM750.84,771.74L756.31,771.92L756.31,834.91L750.84,834.81ZM756.01,771.92L761.57,772.02L761.57,834.95L756.01,834.91ZM761.27,772.02L767.00,772.05L767.00,834.91L761.27,834.95ZM766.70,772.05L772.65,772.00L772.65,834.79L766.70,834.91ZM772.35,772.00L778.63,771.85L778.63,834.57L772.35,834.79ZM778.33,771.85L784.92,771.61L784.92,834.24L778.33,834.57ZM784.62,771.61L791.40,771.29L791.40,833.84L784.62,834.24ZM791.10,771.29L797.96,770.91L797.96,833.37L791.10,833.84ZM797.66,770.91L804.49,770.47L804.49,832.85L797.66,833.37ZM804.19,770.47L810.85,770.00L810.85,832.29L804.19,832.85ZM810.55,770.00L816.95,769.50L816.95,831.72L810.55,832.29ZM816.65,769.50L822.65,769.00L822.65,831.15L816.65,831.72ZM822.35,769.00L827.85,768.51L827.85,830.59L822.35,831.15ZM827.55,768.51L832.61,768.03L832.61,830.05L827.55,830.59ZM832.31,768.03L837.08,767.54L837.08,829.50L832.31,830.05ZM836.78,767.54L841.40,767.00L841.40,828.91L836.78,829.50ZM841.10,767.00L845.72,766.40L845.72,828.25L841.10,828.91ZM845.42,766.40L850.19,765.72L850.19,827.51L845.42,828.25ZM849.89,765.72L854.95,764.93L854.95,826.66L849.89,827.51ZM854.65,764.93L860.15,764.00L860.15,825.67L854.65,826.66ZM859.85,764.00L865.80,762.95L865.80,824.54L859.85,825.67ZM865.50,762.95L871.77,761.79L871.77,823.31L865.50,824.54ZM871.47,761.79L877.98,760.53L877.98,821.97L871.47,823.31ZM877.68,760.53L884.37,759.19L884.37,820.54L877.68,821.97ZM884.07,759.19L890.85,757.75L890.85,819.03L884.07,820.54ZM890.55,757.75L897.36,756.24L897.36,817.43L890.55,819.03ZM897.06,756.24L903.81,754.66L903.81,815.76L897.06,817.43ZM903.51,754.66L910.15,753.00L910.15,814.03L903.51,815.76ZM909.85,753.00L916.53,751.21L916.53,812.15L909.85,814.03ZM916.23,751.21L923.10,749.25L923.10,810.11L916.23,812.15ZM922.80,749.25L929.73,747.17L929.73,807.94L922.80,810.11ZM929.43,747.17L936.34,745.03L936.34,805.72L929.43,807.94ZM936.04,745.03L942.79,742.89L942.79,803.50L936.04,805.72ZM942.49,742.89L948.99,740.80L948.99,801.33L942.49,803.50ZM948.69,740.80L954.81,738.82L954.81,799.27L948.69,801.33ZM954.51,738.82L960.15,737.00L960.15,797.38L954.51,799.27ZM959.85,737.00L965.15,735.27L965.15,795.59L959.85,797.38ZM964.85,735.27L969.96,733.54L969.96,793.80L964.85,795.59ZM969.66,733.54L974.53,731.85L974.53,792.05L969.66,793.80ZM974.23,731.85L978.77,730.25L978.77,790.40L974.23,792.05ZM978.48,730.25L982.63,728.77L982.63,788.87L978.48,790.40ZM982.33,728.77L986.02,727.46L986.02,787.51L982.33,788.87ZM985.73,727.46L988.89,726.36L988.89,786.37L985.73,787.51ZM988.59,726.36L991.15,725.50L991.15,785.50L988.59,786.37Z" fill="url(#gW8)"/>
<path d="M990.85,725.50L994.81,724.03L994.81,788.03L990.85,789.50ZM994.51,724.03L999.61,722.09L999.61,786.09L994.51,788.03ZM999.31,722.09L1005.31,719.79L1005.31,783.71L999.31,786.09ZM1005.01,719.79L1011.69,717.22L1011.69,781.05L1005.01,783.71ZM1011.39,717.22L1018.52,714.47L1018.52,778.19L1011.39,781.05ZM1018.22,714.47L1025.56,711.64L1025.56,775.26L1018.22,778.19ZM1025.26,711.64L1032.58,708.82L1032.58,772.33L1025.26,775.26ZM1032.28,708.82L1039.35,706.10L1039.35,769.51L1032.28,772.33ZM1039.05,706.10L1046.05,703.38L1046.05,766.69L1039.05,769.51ZM1045.75,703.38L1052.96,700.53L1052.96,763.73L1045.75,766.69ZM1052.66,700.53L1060.05,697.58L1060.05,760.68L1052.66,763.73ZM1059.75,697.58L1067.26,694.61L1067.26,757.60L1059.75,760.68ZM1066.96,694.61L1074.53,691.65L1074.53,754.53L1066.96,757.60ZM1074.23,691.65L1081.82,688.76L1081.82,751.53L1074.23,754.53ZM1081.52,688.76L1089.08,685.99L1089.08,748.66L1081.52,751.53ZM1088.78,685.99L1096.25,683.40L1096.25,745.96L1088.78,748.66ZM1095.95,683.40L1103.46,680.93L1103.46,743.38L1095.95,745.96ZM1103.16,680.93L1110.81,678.50L1110.81,740.84L1103.16,743.38ZM1110.51,678.50L1118.21,676.14L1118.21,738.37L1110.51,740.84ZM1117.91,676.14L1125.59,673.88L1125.59,735.99L1117.91,738.37ZM1125.29,673.88L1132.85,671.73L1132.85,733.74L1125.29,735.99ZM1132.55,671.73L1139.92,669.74L1139.92,731.64L1132.55,733.74ZM1139.62,669.74L1146.72,667.92L1146.72,729.72L1139.62,731.64ZM1146.42,667.92L1153.15,666.30L1153.15,728.00L1146.42,729.72ZM1152.85,666.30L1159.17,664.85L1159.17,726.46L1152.85,728.00ZM1158.87,664.85L1164.82,663.52L1164.82,725.05L1158.87,726.46ZM1164.52,663.52L1170.20,662.34L1170.20,723.79L1164.52,725.05ZM1169.90,662.34L1175.39,661.32L1175.39,722.70L1169.90,723.79ZM1175.09,661.32L1180.46,660.49L1180.46,721.78L1175.09,722.70ZM1180.16,660.49L1185.51,659.84L1185.51,721.06L1180.16,721.78ZM1185.21,659.84L1190.61,659.41L1190.61,720.55L1185.21,721.06ZM1190.31,659.41L1195.85,659.20L1195.85,720.26L1190.31,720.55ZM1195.55,659.20L1201.38,659.28L1201.38,720.28L1195.55,720.26ZM1201.08,659.28L1207.20,659.66L1207.20,720.66L1201.08,720.28ZM1206.90,659.66L1213.12,660.27L1213.12,721.27L1206.90,720.66ZM1212.82,660.27L1218.99,661.07L1218.99,722.07L1212.82,721.27ZM1218.69,661.07L1224.63,661.99L1224.63,722.99L1218.69,722.07ZM1224.33,661.99L1229.89,662.97L1229.89,723.97L1224.33,722.99ZM1229.59,662.97L1234.58,663.96L1234.58,724.96L1229.59,723.97ZM1234.28,663.96L1238.55,664.90L1238.55,725.90L1234.28,724.96ZM1238.25,664.90L1241.75,665.82L1241.75,726.82L1238.25,725.90ZM1241.45,665.82L1244.33,666.80L1244.33,727.80L1241.45,726.82ZM1244.03,666.80L1246.40,667.83L1246.40,728.83L1244.03,727.80ZM1246.10,667.83L1248.05,668.90L1248.05,729.90L1246.10,728.83ZM1247.75,668.90L1249.40,670.01L1249.40,731.01L1247.75,729.90ZM1249.10,670.01L1250.54,671.15L1250.54,732.15L1249.10,731.01ZM1250.24,671.15L1251.59,672.31L1251.59,733.31L1250.24,732.15ZM1251.29,672.31L1252.65,673.50L1252.65,734.50L1251.29,733.31ZM1252.35,673.50L1253.62,674.79L1253.62,735.79L1252.35,734.50ZM1253.32,674.79L1254.35,676.24L1254.35,737.24L1253.32,735.79ZM1254.05,676.24L1254.89,677.76L1254.89,738.76L1254.05,737.24ZM1254.59,677.76L1255.28,679.29L1255.28,740.29L1254.59,738.76ZM1254.98,679.29L1255.56,680.75L1255.56,741.75L1254.98,740.29ZM1255.26,680.75L1255.77,682.07L1255.77,743.07L1255.26,741.75ZM1255.47,682.07L1255.95,683.18L1255.95,744.18L1255.47,743.07ZM1255.65,683.18L1256.15,684.00L1256.15,745.00L1255.65,744.18Z" fill="url(#gW9)"/>
<path d="M1388.10,691.54L1388.90,690.50L1388.90,752.50L1388.10,753.54ZM1387.46,692.94L1388.40,691.54L1388.40,753.54L1387.46,754.94ZM1386.71,694.60L1387.76,692.94L1387.76,754.94L1386.71,756.60ZM1385.85,696.44L1387.01,694.60L1387.01,756.60L1385.85,758.44ZM1384.92,698.38L1386.15,696.44L1386.15,758.44L1384.92,760.38ZM1383.92,700.34L1385.22,698.38L1385.22,760.38L1383.92,762.34ZM1382.90,702.24L1384.22,700.34L1384.22,762.34L1382.90,764.24ZM1381.85,704.00L1383.20,702.24L1383.20,764.24L1381.85,766.00ZM1380.77,705.66L1382.15,704.00L1382.15,766.00L1380.77,767.66ZM1379.63,707.33L1381.07,705.66L1381.07,767.66L1379.63,769.33ZM1378.43,709.00L1379.93,707.33L1379.93,769.33L1378.43,771.00ZM1377.18,710.66L1378.73,709.00L1378.73,771.00L1377.18,772.66ZM1375.89,712.29L1377.48,710.66L1377.48,772.66L1375.89,774.29ZM1374.57,713.90L1376.19,712.29L1376.19,774.29L1374.57,775.90ZM1373.22,715.47L1374.87,713.90L1374.87,775.90L1373.22,777.47ZM1371.85,717.00L1373.52,715.47L1373.52,777.47L1371.85,779.00ZM1370.36,718.55L1372.15,717.00L1372.15,779.00L1370.36,780.55ZM1368.71,720.15L1370.66,718.55L1370.66,780.55L1368.71,782.15ZM1366.97,721.75L1369.01,720.15L1369.01,782.15L1366.97,783.75ZM1365.22,723.31L1367.27,721.75L1367.27,783.75L1365.22,785.31ZM1363.56,724.77L1365.53,723.31L1365.53,785.31L1363.56,786.77ZM1362.05,726.07L1363.86,724.77L1363.86,786.77L1362.05,788.07ZM1360.79,727.17L1362.35,726.07L1362.35,788.07L1360.79,789.17ZM1359.85,728.00L1361.09,727.17L1361.09,789.17L1359.85,790.00Z" fill="#78c060"/>
<path d="M1358.76,728.72L1360.15,728.00L1360.15,789.00L1358.76,789.72ZM1357.39,729.62L1359.06,728.72L1359.06,789.72L1357.39,790.62ZM1355.76,730.69L1357.69,729.62L1357.69,790.62L1355.76,791.69ZM1353.91,731.91L1356.06,730.69L1356.06,791.69L1353.91,792.91ZM1351.87,733.26L1354.21,731.91L1354.21,792.91L1351.87,794.26ZM1349.65,734.74L1352.17,733.26L1352.17,794.26L1349.65,795.74ZM1347.31,736.32L1349.95,734.74L1349.95,795.74L1347.31,797.32ZM1344.85,738.00L1347.61,736.32L1347.61,797.32L1344.85,799.00ZM1342.20,739.83L1345.15,738.00L1345.15,799.00L1342.20,800.83ZM1339.30,741.85L1342.50,739.83L1342.50,800.83L1339.30,802.85ZM1336.21,744.01L1339.60,741.85L1339.60,802.85L1336.21,805.01ZM1332.97,746.28L1336.51,744.01L1336.51,805.01L1332.97,807.28ZM1329.66,748.61L1333.28,746.28L1333.28,807.28L1329.66,809.61ZM1326.33,750.95L1329.96,748.61L1329.96,809.61L1326.33,811.95ZM1323.04,753.26L1326.63,750.95L1326.63,811.95L1323.04,814.26ZM1319.85,755.50L1323.34,753.26L1323.34,814.26L1319.85,816.50ZM1316.72,757.65L1320.15,755.50L1320.15,816.50L1316.72,818.65ZM1313.60,759.76L1317.03,757.65L1317.03,818.65L1313.60,820.76ZM1310.47,761.84L1313.90,759.76L1313.90,820.76L1310.47,822.84ZM1307.35,763.94L1310.78,761.84L1310.78,822.84L1307.35,824.94ZM1304.22,766.07L1307.65,763.94L1307.65,824.94L1304.22,827.07ZM1301.10,768.27L1304.53,766.07L1304.53,827.07L1301.10,829.27ZM1297.97,770.57L1301.40,768.27L1301.40,829.27L1297.97,831.57ZM1294.85,773.00L1298.28,770.57L1298.28,831.57L1294.85,834.00ZM1291.63,775.63L1295.15,773.00L1295.15,834.00L1291.63,836.63ZM1288.27,778.48L1291.93,775.63L1291.93,836.63L1288.27,839.48ZM1284.86,781.47L1288.57,778.48L1288.57,839.48L1284.86,842.47ZM1281.47,784.50L1285.16,781.47L1285.16,842.47L1281.47,845.50ZM1278.20,787.50L1281.78,784.50L1281.78,845.50L1278.20,848.50ZM1275.12,790.39L1278.50,787.50L1278.50,848.50L1275.12,851.39ZM1272.31,793.08L1275.42,790.39L1275.42,851.39L1272.31,854.08ZM1269.85,795.50L1272.61,793.08L1272.61,854.08L1269.85,856.50ZM1267.76,797.63L1270.15,795.50L1270.15,856.50L1267.76,858.63ZM1265.95,799.54L1268.06,797.63L1268.06,858.63L1265.95,860.54ZM1264.39,801.29L1266.25,799.54L1266.25,860.54L1264.39,862.29ZM1263.04,802.91L1264.69,801.29L1264.69,862.29L1263.04,863.91ZM1261.85,804.44L1263.34,802.91L1263.34,863.91L1261.85,865.44ZM1260.78,805.94L1262.15,804.44L1262.15,865.44L1260.78,866.94ZM1259.79,807.45L1261.08,805.94L1261.08,866.94L1259.79,868.45ZM1258.85,809.00L1260.09,807.45L1260.09,868.45L1258.85,870.00ZM1257.99,810.65L1259.15,809.00L1259.15,870.00L1257.99,871.65ZM1257.26,812.39L1258.29,810.65L1258.29,871.65L1257.26,873.39ZM1256.66,814.14L1257.56,812.39L1257.56,873.39L1256.66,875.14ZM1256.16,815.84L1256.96,814.14L1256.96,875.14L1256.16,876.84ZM1255.75,817.44L1256.46,815.84L1256.46,876.84L1255.75,878.44ZM1255.40,818.88L1256.05,817.44L1256.05,878.44L1255.40,879.88ZM1255.11,820.08L1255.70,818.88L1255.70,879.88L1255.11,881.08ZM1254.85,821.00L1255.41,820.08L1255.41,881.08L1254.85,882.00Z" fill="url(#gW11)"/>
<path d="M1123.05,815.46L1123.45,815.00L1123.45,877.98L1123.05,878.45ZM1122.91,816.07L1123.35,815.46L1123.35,878.45L1122.91,879.05ZM1122.73,816.79L1123.21,816.07L1123.21,879.05L1122.73,879.78ZM1122.54,817.59L1123.03,816.79L1123.03,879.78L1122.54,880.59ZM1122.37,818.45L1122.84,817.59L1122.84,880.59L1122.37,881.44ZM1122.23,819.32L1122.67,818.45L1122.67,881.44L1122.23,882.32ZM1122.15,820.19L1122.53,819.32L1122.53,882.32L1122.15,883.18ZM1122.15,821.00L1122.45,820.19L1122.45,883.18L1122.15,884.00ZM1122.15,821.00L1122.52,821.80L1122.52,884.79L1122.15,884.00ZM1122.22,821.80L1122.64,822.61L1122.64,885.61L1122.22,884.79ZM1122.34,822.61L1122.81,823.44L1122.81,886.44L1122.34,885.61ZM1122.51,823.44L1123.02,824.28L1123.02,887.27L1122.51,886.44ZM1122.72,824.28L1123.26,825.11L1123.26,888.10L1122.72,887.27ZM1122.96,825.11L1123.54,825.93L1123.54,888.92L1122.96,888.10ZM1123.24,825.93L1123.83,826.73L1123.83,889.71L1123.24,888.92ZM1123.53,826.73L1124.15,827.50L1124.15,890.48L1123.53,889.71ZM1123.85,827.50L1124.45,828.20L1124.45,891.17L1123.85,890.48ZM1124.15,828.20L1124.73,828.82L1124.73,891.79L1124.15,891.17ZM1124.43,828.82L1125.01,829.41L1125.01,892.37L1124.43,891.79ZM1124.71,829.41L1125.34,829.99L1125.34,892.95L1124.71,892.37ZM1125.04,829.99L1125.73,830.60L1125.73,893.56L1125.04,892.95ZM1125.43,830.60L1126.23,831.28L1126.23,894.24L1125.43,893.56ZM1125.93,831.28L1126.86,832.07L1126.86,895.02L1125.93,894.24ZM1126.56,832.07L1127.65,833.00L1127.65,895.94L1126.56,895.02ZM1127.35,833.00L1128.61,834.09L1128.61,897.01L1127.35,895.94ZM1128.31,834.09L1129.71,835.31L1129.71,898.22L1128.31,897.01ZM1129.41,835.31L1130.93,836.63L1130.93,899.53L1129.41,898.22ZM1130.63,836.63L1132.26,838.03L1132.26,900.91L1130.63,899.53ZM1131.96,838.03L1133.68,839.46L1133.68,902.32L1131.96,900.91ZM1133.38,839.46L1135.18,840.90L1135.18,903.75L1133.38,902.32ZM1134.88,840.90L1136.74,842.33L1136.74,905.16L1134.88,903.75ZM1136.44,842.33L1138.35,843.70L1138.35,906.51L1136.44,905.16ZM1138.05,843.70L1139.99,845.04L1139.99,907.83L1138.05,906.51ZM1139.69,845.04L1141.67,846.38L1141.67,909.15L1139.69,907.83ZM1141.37,846.38L1143.42,847.71L1143.42,910.46L1141.37,909.15ZM1143.12,847.71L1145.24,849.05L1145.24,911.78L1143.12,910.46ZM1144.94,849.05L1147.15,850.39L1147.15,913.10L1144.94,911.78ZM1146.85,850.39L1149.18,851.72L1149.18,914.41L1146.85,913.10ZM1148.88,851.72L1151.34,853.06L1151.34,915.72L1148.88,914.41ZM1151.04,853.06L1153.65,854.40L1153.65,917.03L1151.04,915.72ZM1153.35,854.40L1156.10,855.74L1156.10,918.35L1153.35,917.03ZM1155.80,855.74L1158.66,857.09L1158.66,919.67L1155.80,918.35ZM1158.36,857.09L1161.34,858.45L1161.34,920.99L1158.36,919.67ZM1161.04,858.45L1164.14,859.80L1164.14,922.31L1161.04,920.99ZM1163.84,859.80L1167.06,861.15L1167.06,923.62L1163.84,922.31ZM1166.76,861.15L1170.11,862.48L1170.11,924.92L1166.76,923.62ZM1169.81,862.48L1173.27,863.80L1173.27,926.21L1169.81,924.92ZM1172.97,863.80L1176.55,865.10L1176.55,927.47L1172.97,926.21ZM1176.25,865.10L1179.99,866.38L1179.99,928.70L1176.25,927.47ZM1179.69,866.38L1183.60,867.63L1183.60,929.91L1179.69,928.70ZM1183.30,867.63L1187.36,868.87L1187.36,931.11L1183.30,929.91ZM1187.06,868.87L1191.22,870.09L1191.22,932.29L1187.06,931.11ZM1190.92,870.09L1195.16,871.32L1195.16,933.46L1190.92,932.29ZM1194.86,871.32L1199.15,872.54L1199.15,934.64L1194.86,933.46ZM1198.85,872.54L1203.16,873.76L1203.16,935.82L1198.85,934.64ZM1202.86,873.76L1207.15,875.00L1207.15,937.01L1202.86,935.82ZM1206.85,875.00L1211.12,876.22L1211.12,938.19L1206.85,937.01ZM1210.82,876.22L1215.11,877.42L1215.11,939.33L1210.82,938.19ZM1214.81,877.42L1219.12,878.60L1219.12,940.47L1214.81,939.33ZM1218.82,878.60L1223.17,879.79L1223.17,941.61L1218.82,940.47ZM1222.87,879.79L1227.28,881.00L1227.28,942.78L1222.87,941.61ZM1226.98,881.00L1231.47,882.27L1231.47,943.99L1226.98,942.78ZM1231.17,882.27L1235.75,883.59L1235.75,945.27L1231.17,943.99ZM1235.45,883.59L1240.15,885.00L1240.15,946.63L1235.45,945.27ZM1239.85,885.00L1244.68,886.49L1244.68,948.06L1239.85,946.63ZM1244.38,886.49L1249.35,888.05L1249.35,949.56L1244.38,948.06ZM1249.05,888.05L1254.13,889.66L1254.13,951.12L1249.05,949.56ZM1253.83,889.66L1258.97,891.32L1258.97,952.72L1253.83,951.12ZM1258.67,891.32L1263.86,893.02L1263.86,954.37L1258.67,952.72ZM1263.56,893.02L1268.76,894.76L1268.76,956.05L1263.56,954.37ZM1268.46,894.76L1273.63,896.52L1273.63,957.75L1268.46,956.05ZM1273.33,896.52L1278.45,898.30L1278.45,959.48L1273.33,957.75ZM1278.15,898.30L1283.41,900.19L1283.41,961.31L1278.15,959.48ZM1283.11,900.19L1288.63,902.22L1288.63,963.28L1283.11,961.31ZM1288.33,902.22L1293.96,904.34L1293.96,965.34L1288.33,963.28ZM1293.66,904.34L1299.23,906.46L1299.23,967.40L1293.66,965.34ZM1298.92,906.46L1304.28,908.52L1304.28,969.40L1298.92,967.40ZM1303.98,908.52L1308.98,910.45L1308.98,971.27L1303.98,969.40ZM1308.68,910.45L1313.15,912.16L1313.15,972.94L1308.68,971.27ZM1312.85,912.16L1316.65,913.60L1316.65,974.33L1312.85,972.94ZM1316.35,913.60L1319.44,914.76L1319.44,975.46L1316.35,974.33ZM1319.14,914.76L1321.67,915.71L1321.67,976.39L1319.14,975.46ZM1321.37,915.71L1323.42,916.48L1323.42,977.14L1321.37,976.39ZM1323.12,916.48L1324.79,917.11L1324.79,977.75L1323.12,977.14ZM1324.49,917.11L1325.85,917.61L1325.85,978.24L1324.49,977.75ZM1325.55,917.61L1326.71,918.02L1326.71,978.64L1325.55,978.24ZM1326.41,918.02L1327.45,918.38L1327.45,978.98L1326.41,978.64ZM1327.15,918.38L1328.15,918.70L1328.15,979.30L1327.15,978.98Z" fill="url(#gW12)"/>
<path d="M1328,919.4 L1450.3,904.8 L1449.5,966.5 L1326.7,979.3 Z" fill="#fdd448"/>
<path d="M18.0,381.4 C20.1,383.5 26.0,389.9 30.6,394.0 C35.2,398.1 39.5,401.7 45.9,405.8 C52.3,409.9 59.9,414.7 68.8,418.8 C77.7,422.9 89.2,427.2 99.4,430.5 C109.6,433.8 122.3,436.4 130.0,438.5 C137.7,440.6 141.5,441.1 145.3,443.0 C149.1,444.9 151.5,447.7 152.9,450.2 C154.3,452.7 154.5,454.7 153.7,458.0 C152.9,461.3 151.0,465.9 148.3,470.0 C145.6,474.1 141.4,478.0 137.6,482.3 C133.8,486.6 129.5,491.4 125.4,496.0 C121.3,500.6 117.7,505.1 113.0,510.0 C108.3,514.9 102.7,520.0 97.0,525.5 C91.3,531.0 84.7,537.2 79.0,542.8 C73.3,548.4 67.2,554.2 62.6,559.1 C58.0,564.0 54.2,568.1 51.2,572.2 C48.2,576.3 46.1,580.1 44.7,583.6 C43.3,587.1 43.1,590.5 43.0,593.4 C42.9,596.3 42.7,598.0 43.8,601.0 C44.9,604.0 46.5,607.9 49.6,611.3 C52.7,614.6 57.7,617.8 62.6,621.1 C67.5,624.4 72.1,627.6 78.9,630.9 C85.7,634.2 93.9,637.4 103.4,640.7 C112.9,644.0 125.1,648.0 136.0,650.5 C146.9,653.0 158.8,654.2 168.6,655.4 C178.4,656.6 186.4,657.1 195.0,657.5 C203.6,657.9 210.4,657.7 220.0,657.6 C229.6,657.5 241.7,657.2 252.5,656.7 C263.3,656.2 274.1,655.6 285.0,654.3 C295.9,653.0 306.8,651.1 317.6,649.1 C328.5,647.1 339.3,644.8 350.1,642.1 C360.9,639.5 371.8,636.6 382.6,633.2 C393.4,629.8 404.3,625.5 415.1,621.8 C425.9,618.1 433.9,616.1 447.6,611.2 C461.3,606.3 483.9,597.5 497.5,592.5 C511.1,587.5 518.6,585.1 529.0,581.5 C539.4,577.9 546.2,575.3 559.9,570.6 C573.6,565.9 595.6,558.0 611.3,553.5 C627.0,549.0 643.3,545.7 654.0,543.9 C664.7,542.1 669.1,542.3 675.5,542.8 C681.9,543.3 688.5,544.9 692.6,547.0 C696.7,549.1 699.3,552.4 700.0,555.6 C700.7,558.8 699.7,561.3 697.0,566.3 C694.3,571.3 688.9,579.6 684.0,585.6 C679.1,591.6 671.3,598.4 667.5,602.2 C663.7,606.0 663.9,605.8 661.4,608.3 C658.9,610.8 656.1,614.1 652.7,617.5 C649.3,620.9 644.6,625.3 641.0,628.7 C637.4,632.1 634.2,634.7 630.8,637.9 C627.4,641.1 624.0,644.5 620.6,648.1 C617.2,651.7 613.8,655.6 610.4,659.3 C607.0,663.0 603.3,667.1 600.2,670.5 C597.1,673.9 594.3,676.8 592.0,679.7 C589.7,682.6 588.1,685.1 586.5,688.0 C584.9,690.9 583.4,694.3 582.5,697.0 C581.6,699.7 581.4,701.6 581.3,704.0 C581.2,706.4 580.3,707.9 581.7,711.3 C583.1,714.7 586.1,720.0 589.6,724.4 C593.1,728.8 596.4,733.0 602.6,737.4 C608.9,741.8 618.9,746.8 627.1,750.5 C635.3,754.2 642.1,756.6 651.6,759.5 C661.1,762.4 671.1,765.4 684.2,767.6 C697.3,769.8 715.3,771.4 730.0,772.5 C744.7,773.6 757.1,774.2 772.5,774.0 C787.9,773.8 807.9,772.3 822.5,771.0 C837.1,769.7 845.4,768.7 860.0,766.0 C874.6,763.3 893.3,759.5 910.0,755.0 C926.7,750.5 946.5,743.6 960.0,739.0 C973.5,734.4 977.8,732.6 991.0,727.5 C1004.2,722.4 1021.7,715.1 1039.2,708.1 C1056.7,701.1 1077.1,692.0 1096.1,685.4 C1115.1,678.8 1136.4,672.3 1153.0,668.3 C1169.6,664.3 1181.5,661.4 1195.7,661.2 C1209.9,661.0 1228.9,664.5 1238.4,666.9 C1247.9,669.3 1249.6,672.3 1252.5,675.5 C1255.4,678.7 1256.4,682.3 1256.0,686.0 C1255.6,689.7 1253.1,693.3 1250.0,697.5 C1246.9,701.7 1242.3,706.6 1237.5,711.0 C1232.7,715.4 1226.6,719.6 1221.0,723.6 C1215.4,727.6 1209.5,731.0 1204.1,735.0 C1198.7,739.0 1193.9,743.2 1188.8,747.3 C1183.7,751.4 1178.6,755.2 1173.5,759.5 C1168.4,763.8 1163.3,768.7 1158.2,773.3 C1153.1,777.9 1147.2,782.7 1142.9,787.0 C1138.6,791.3 1134.9,795.6 1132.2,799.3 C1129.5,803.0 1128.0,806.0 1126.5,809.0 C1125.0,812.0 1124.0,814.7 1123.3,817.0 C1122.6,819.3 1122.2,820.9 1122.3,823.0 C1122.4,825.1 1123.1,827.5 1124.0,829.5 C1124.9,831.5 1125.1,832.3 1127.5,835.0 C1129.9,837.7 1133.9,842.1 1138.2,845.7 C1142.5,849.3 1147.1,852.8 1153.5,856.4 C1159.9,860.0 1167.5,863.7 1176.4,867.1 C1185.3,870.5 1196.4,873.7 1207.0,877.0 C1217.6,880.3 1228.1,883.1 1240.0,887.0 C1251.9,890.9 1265.5,895.5 1278.3,900.3 C1291.0,905.1 1308.2,912.2 1316.5,915.6 C1324.8,919.0 1326.1,919.9 1328.0,920.7 L1450.3,906 L1450.3,906.0 C1444.9,903.0 1429.7,894.0 1418.0,888.0 C1406.3,882.0 1392.7,875.2 1380.0,870.0 C1367.3,864.8 1353.8,860.8 1342.0,857.0 C1330.2,853.2 1317.7,849.5 1309.0,847.0 C1300.3,844.5 1295.7,843.3 1290.0,842.0 C1284.3,840.7 1279.7,840.5 1275.0,839.0 C1270.3,837.5 1265.3,835.7 1262.0,833.0 C1258.7,830.3 1255.5,826.7 1255.0,823.0 C1254.5,819.3 1256.5,815.2 1259.0,811.0 C1261.5,806.8 1264.0,803.5 1270.0,797.5 C1276.0,791.5 1286.7,781.7 1295.0,775.0 C1303.3,768.3 1311.7,763.3 1320.0,757.5 C1328.3,751.7 1338.3,744.6 1345.0,740.0 C1351.7,735.4 1355.5,733.5 1360.0,730.0 C1364.5,726.5 1368.3,723.0 1372.0,719.0 C1375.7,715.0 1379.2,710.4 1382.0,706.0 C1384.8,701.6 1387.6,696.4 1388.8,692.5 C1389.9,688.6 1389.8,686.2 1388.8,682.5 C1387.7,678.8 1385.6,673.9 1382.5,670.0 C1379.4,666.1 1376.2,664.0 1370.0,659.0 C1363.8,654.0 1356.7,645.7 1345.0,640.0 C1333.3,634.3 1317.8,629.2 1300.0,625.0 C1282.2,620.8 1258.2,616.1 1238.4,614.8 C1218.7,613.5 1200.5,615.3 1181.5,617.1 C1162.5,618.9 1143.6,622.1 1124.6,625.6 C1105.6,629.1 1086.7,633.2 1067.7,638.4 C1048.7,643.6 1029.7,650.5 1010.7,656.9 C991.7,663.3 973.2,670.1 953.8,676.8 C934.4,683.4 909.4,691.6 894.1,696.8 C878.8,702.0 873.5,704.3 862.0,708.0 C850.5,711.7 837.6,716.0 825.4,719.0 C813.2,722.0 799.4,724.8 788.8,726.3 C778.2,727.8 769.7,728.3 762.0,728.2 C754.3,728.1 748.2,726.9 742.5,725.5 C736.8,724.1 732.4,722.4 728.0,720.0 C723.6,717.6 718.0,714.3 716.0,711.0 C714.0,707.7 714.0,704.8 716.0,700.0 C718.0,695.2 722.8,688.7 728.0,682.0 C733.2,675.3 739.5,668.0 747.5,660.0 C755.5,652.0 769.5,640.4 776.0,634.3 C782.5,628.1 783.5,626.8 786.8,623.1 C790.1,619.4 793.0,615.5 796.0,612.1 C799.0,608.7 802.1,606.3 805.1,602.9 C808.1,599.5 811.2,595.9 814.3,591.9 C817.4,587.9 820.6,583.6 823.5,579.1 C826.4,574.6 830.2,568.4 831.6,565.0 C833.0,561.6 832.2,561.8 832.1,558.9 C832.0,556.0 831.9,551.6 830.8,547.9 C829.7,544.2 827.8,540.3 825.3,536.9 C822.8,533.5 820.1,530.5 816.1,527.7 C812.1,525.0 805.9,522.6 801.5,520.4 C797.1,518.2 798.6,517.2 790.0,514.5 C781.4,511.8 763.3,506.8 750.0,504.0 C736.7,501.2 722.1,498.8 710.0,497.5 C697.9,496.2 688.4,496.1 677.6,496.0 C666.8,495.9 655.9,496.3 645.1,496.8 C634.3,497.3 623.4,497.8 612.6,498.9 C601.8,500.0 590.9,501.6 580.1,503.3 C569.3,505.0 558.5,506.7 547.6,509.0 C536.8,511.3 525.9,514.0 515.0,517.2 C504.1,520.5 491.7,525.2 482.5,528.5 C473.3,531.8 468.5,533.6 460.0,536.9 C451.5,540.2 441.7,544.0 431.4,548.3 C421.1,552.6 408.9,557.9 398.0,562.5 C387.1,567.1 377.0,571.8 366.3,575.9 C355.6,580.0 343.8,584.0 333.8,587.3 C323.8,590.6 314.3,593.5 306.2,595.8 C298.1,598.1 292.6,599.4 285.0,601.1 C277.4,602.8 268.8,604.4 260.7,606.0 C252.6,607.6 242.8,609.6 236.3,610.6 C229.9,611.6 226.8,612.2 222.0,612.3 C217.2,612.4 213.5,611.9 207.5,611.0 C201.5,610.1 191.1,608.7 186.0,607.0 C180.9,605.3 178.7,603.5 177.0,601.0 C175.3,598.5 175.1,595.5 176.0,592.0 C176.9,588.5 180.2,583.8 182.5,580.0 C184.8,576.2 186.2,573.3 190.0,569.0 C193.8,564.7 200.0,558.6 205.0,554.0 C210.0,549.4 214.9,545.8 219.8,541.5 C224.7,537.2 230.0,532.3 234.5,528.0 C239.0,523.7 242.6,519.9 246.7,515.8 C250.8,511.7 255.2,507.5 258.9,503.6 C262.6,499.7 265.6,496.3 268.7,492.6 C271.8,488.9 274.9,485.3 277.3,481.6 C279.8,477.9 282.0,474.2 283.4,470.6 C284.8,467.0 285.5,462.9 285.8,460.0 C286.1,457.1 285.9,456.1 285.3,453.5 C284.8,450.9 284.5,447.5 282.5,444.1 C280.5,440.7 277.4,436.6 273.5,432.9 C269.6,429.2 264.2,424.9 259.0,421.7 C253.8,418.5 248.7,416.4 242.1,413.8 C235.5,411.2 227.2,408.4 219.7,406.0 C212.2,403.6 204.8,401.4 197.3,399.2 C189.8,396.9 181.5,395.1 174.9,392.5 C168.3,389.9 162.6,386.9 158.0,383.5 C153.4,380.1 149.3,374.1 147.6,372.2 Z" fill="#ececee"/>
<line x1="97" y1="525.5" x2="218" y2="543" stroke="#b062b0" stroke-width="2.0"/>
<line x1="218" y1="543" x2="218" y2="603" stroke="#b86ab8" stroke-width="1.8"/>
<line x1="398.75" y1="562" x2="497.5" y2="592.5" stroke="#3a78c8" stroke-width="2.4"/>
<line x1="497.5" y1="592.5" x2="497.5" y2="651" stroke="#4482cc" stroke-width="3.4"/>
<line x1="652.7" y1="617.5" x2="776" y2="634.3" stroke="#4a88d4" stroke-width="2.0"/>
<line x1="776" y1="634.3" x2="776" y2="692.5" stroke="#5a70c4" stroke-width="2.0"/>
<line x1="893.75" y1="697" x2="991" y2="727.5" stroke="#3cb060" stroke-width="2.4"/>
<line x1="991.2" y1="727.5" x2="991.2" y2="786.5" stroke="#3cb464" stroke-width="3.6"/>
<line x1="1237.5" y1="712.5" x2="1360" y2="728.75" stroke="#3cb050" stroke-width="2.0"/>
<line x1="1360" y1="729" x2="1360" y2="788" stroke="#40b858" stroke-width="2.2"/>
<ellipse cx="111" cy="390.6" rx="16.8" ry="4.1" fill="url(#gp1)"/>
<line x1="111" y1="147.60" x2="111" y2="390.6" stroke="#fff" stroke-opacity="0.72" stroke-width="6" stroke-dasharray="9 1.2"/>
<line x1="111" y1="148.45" x2="111" y2="390.6" stroke="#a9a9a9" stroke-width="4.6" stroke-dasharray="7.3 2.9"/>
<ellipse cx="308.75" cy="623" rx="16.8" ry="4.1" fill="#6050a0"/>
<line x1="308.75" y1="379.60" x2="308.75" y2="623" stroke="#fff" stroke-opacity="0.72" stroke-width="6" stroke-dasharray="9 1.2"/>
<line x1="308.75" y1="380.45" x2="308.75" y2="623" stroke="#a9a9a9" stroke-width="4.6" stroke-dasharray="7.3 2.9"/>
<ellipse cx="565.7" cy="533" rx="16.8" ry="4.1" fill="#5e50a0"/>
<line x1="565.7" y1="289.00" x2="565.7" y2="533" stroke="#fff" stroke-opacity="0.72" stroke-width="6" stroke-dasharray="9 1.2"/>
<line x1="565.7" y1="289.85" x2="565.7" y2="533" stroke="#a9a9a9" stroke-width="4.6" stroke-dasharray="7.3 2.9"/>
<ellipse cx="790" cy="748" rx="16.8" ry="4.1" fill="#5aa8e0"/>
<line x1="790" y1="504.60" x2="790" y2="748" stroke="#fff" stroke-opacity="0.72" stroke-width="6" stroke-dasharray="9 1.2"/>
<line x1="790" y1="505.45" x2="790" y2="748" stroke="#a9a9a9" stroke-width="4.6" stroke-dasharray="7.3 2.9"/>
<ellipse cx="1098" cy="650.75" rx="16.8" ry="4.1" fill="#6cc060"/>
<line x1="1098" y1="406.80" x2="1098" y2="650.75" stroke="#fff" stroke-opacity="0.72" stroke-width="6" stroke-dasharray="9 1.2"/>
<line x1="1098" y1="407.65" x2="1098" y2="650.75" stroke="#a9a9a9" stroke-width="4.6" stroke-dasharray="7.3 2.9"/>
<ellipse cx="1339.5" cy="883.2" rx="16.8" ry="4.1" fill="#6cc060"/>
<line x1="1339.5" y1="639.60" x2="1339.5" y2="883.2" stroke="#fff" stroke-opacity="0.72" stroke-width="6" stroke-dasharray="9 1.2"/>
<line x1="1339.5" y1="640.45" x2="1339.5" y2="883.2" stroke="#a9a9a9" stroke-width="4.6" stroke-dasharray="7.3 2.9"/>
<rect x="2.3" y="2.3" width="217.9" height="160.9" rx="13" ry="13" fill="#fff" stroke="url(#gb1)" stroke-width="4.6"/>
<text x="111.2" y="69.7" text-anchor="middle" font-family="&quot;Liberation Sans&quot;, sans-serif" font-size="29" fill="#434343">HR Strategy &amp;</text>
<text x="111.2" y="102.7" text-anchor="middle" font-family="&quot;Liberation Sans&quot;, sans-serif" font-size="29" fill="#434343">Policy</text>
<rect x="200.60000000000002" y="234.3" width="217.9" height="160.9" rx="13" ry="13" fill="#fff" stroke="url(#gb2)" stroke-width="4.6"/>
<text x="309.6" y="301.0" text-anchor="middle" font-family="&quot;Liberation Sans&quot;, sans-serif" font-size="29" fill="#434343">Talent</text>
<text x="309.6" y="335.0" text-anchor="middle" font-family="&quot;Liberation Sans&quot;, sans-serif" font-size="29" fill="#434343" textLength="145.6" lengthAdjust="spacing">Acquisition</text>
<rect x="456.3" y="143.70000000000002" width="217.9" height="160.9" rx="13" ry="13" fill="#fff" stroke="url(#gb3)" stroke-width="4.6"/>
<text x="565.2" y="209.4" text-anchor="middle" font-family="&quot;Liberation Sans&quot;, sans-serif" font-size="29" fill="#434343">Talent</text>
<text x="565.2" y="242.4" text-anchor="middle" font-family="&quot;Liberation Sans&quot;, sans-serif" font-size="29" fill="#434343" textLength="173.9" lengthAdjust="spacing">Development</text>
<rect x="680.5999999999999" y="359.3" width="217.9" height="160.9" rx="13" ry="13" fill="#fff" stroke="url(#gb4)" stroke-width="4.6"/>
<text x="789.5" y="414.6" text-anchor="middle" font-family="&quot;Liberation Sans&quot;, sans-serif" font-size="29" fill="#434343">Talent</text>
<text x="789.5" y="448.2" text-anchor="middle" font-family="&quot;Liberation Sans&quot;, sans-serif" font-size="29" fill="#434343" textLength="171.4" lengthAdjust="spacing">Performance</text>
<text x="789.5" y="481.7" text-anchor="middle" font-family="&quot;Liberation Sans&quot;, sans-serif" font-size="29" fill="#434343" textLength="171.3" lengthAdjust="spacing">Management</text>
<rect x="988.3" y="261.5" width="219.4" height="160.9" rx="13" ry="13" fill="#fff" stroke="url(#gb5)" stroke-width="4.6"/>
<text x="1098.0" y="334.8" text-anchor="middle" font-family="&quot;Liberation Sans&quot;, sans-serif" font-size="29" fill="#434343">Talent</text>
<text x="1098.0" y="368.2" text-anchor="middle" font-family="&quot;Liberation Sans&quot;, sans-serif" font-size="29" fill="#434343" textLength="171.3" lengthAdjust="spacing">Management</text>
<rect x="1230.6" y="494.3" width="217.9" height="160.9" rx="13" ry="13" fill="#fff" stroke="url(#gb6)" stroke-width="4.6"/>
<text x="1339.5" y="558.8" text-anchor="middle" font-family="&quot;Liberation Sans&quot;, sans-serif" font-size="29" fill="#434343" textLength="192.4" lengthAdjust="spacing">Talent Reward,</text>
<text x="1339.5" y="591.8" text-anchor="middle" font-family="&quot;Liberation Sans&quot;, sans-serif" font-size="29" fill="#434343" textLength="154.2" lengthAdjust="spacing">Retention &amp;</text>
<text x="1339.5" y="625.7" text-anchor="middle" font-family="&quot;Liberation Sans&quot;, sans-serif" font-size="29" fill="#434343" textLength="154.9" lengthAdjust="spacing">Termination</text>
</svg></body></html>
